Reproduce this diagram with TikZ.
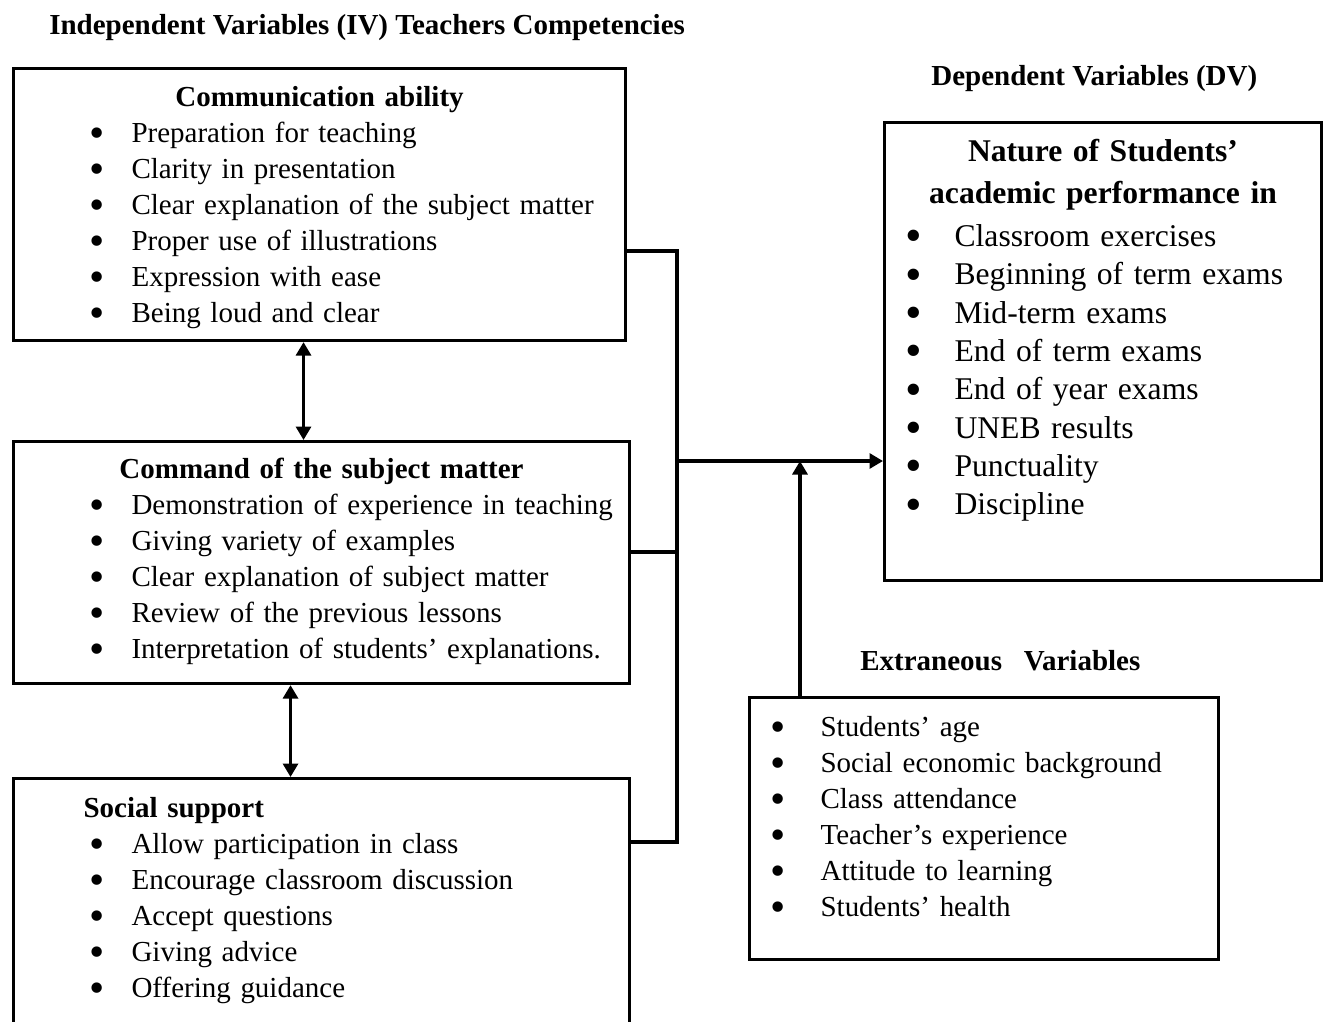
\documentclass[tikz,border=0pt]{standalone}
\usepackage{fontspec}
\setmainfont{Liberation Serif}
\usetikzlibrary{arrows.meta}
\usetikzlibrary{positioning}

\newcommand\bigdot{\smash{\raisebox{-0.17em}{\scalebox{1.5}{\textbullet}}}}
\newcommand\ivitem[1]{\hspace*{1.68cm}\makebox[0pt]{\bigdot}\hspace*{0.68cm}#1}
\newcommand\dvitem[1]{\hspace*{0.58cm}\makebox[0pt]{\bigdot}\hspace*{0.82cm}#1}
\newcommand\evitem[1]{\hspace*{0.58cm}\makebox[0pt]{\bigdot}\hspace*{0.84cm}#1}

\begin{document}
\begin{tikzpicture}
    [x=0.02cm, y=-0.02cm,
     varBox/.style={draw=black, line width=1.8pt, inner sep=0pt, anchor=north west, align=left, font=\fontsize{16.5}{20.5}\selectfont},
     dvBoxStyle/.style={varBox, font=\fontsize{18}{21.8}\selectfont},
     varLabel/.style={anchor=base west, inner sep=0pt, font=\fontsize{16.5}{20.5}\selectfont\bfseries},
     link/.style={line width=1.8pt},
     arrowTip/.style={-{Triangle[length=0.27cm, width=0.3cm]}},
     bothTips/.style={{Triangle[length=0.27cm, width=0.3cm]}-{Triangle[length=0.27cm, width=0.3cm]}},
    ]
    \useasboundingbox (0,0) rectangle (1325,1021);

    \node[varLabel] (ivLabel) at (49,34) {Independent Variables (IV) Teachers Competencies};
    \node[varLabel] (dvLabel) at (931,85) {Dependent Variables (DV)};
    \node[varLabel] (evLabel) at (860,670) {Extraneous~~~Variables};

    \node[varBox, text width=12.24cm, text height=0.76cm, text depth=4.68cm] (commBox) at (12,67)
        {\makebox[\linewidth]{\bfseries Communication ability}\\
         \ivitem{Preparation for teaching}\\
         \ivitem{Clarity in presentation}\\
         \ivitem{Clear explanation of the subject matter}\\
         \ivitem{Proper use of illustrations}\\
         \ivitem{Expression with ease}\\
         \ivitem{Being loud and clear}};
    \node[varBox, text width=12.32cm, text height=0.74cm, text depth=4.1cm] (cmdBox) at (12,440)
        {\makebox[\linewidth]{\bfseries Command of the subject matter}\\
         \ivitem{Demonstration of experience in teaching}\\
         \ivitem{Giving variety of examples}\\
         \ivitem{Clear explanation of subject matter}\\
         \ivitem{Review of the previous lessons}\\
         \ivitem{Interpretation of students' explanations.}};
    \node[varBox, text width=12.32cm, text height=0.78cm, text depth=4.6cm] (socBox) at (12,777)
        {\hspace*{1.4cm}\textbf{Social support}\\
         \ivitem{Allow participation in class}\\
         \ivitem{Encourage classroom discussion}\\
         \ivitem{Accept questions}\\
         \ivitem{Giving advice}\\
         \ivitem{Offering guidance}};

    \node[dvBoxStyle, text width=8.74cm, text height=0.78cm, text depth=8.38cm] (dvBox) at (883,121)
        {\makebox[\linewidth]{\bfseries Nature of Students'}\\[2.1pt]
         \makebox[\linewidth]{\bfseries academic performance in}\\[2.7pt]
         \dvitem{Classroom exercises}\\
         \dvitem{Beginning of term exams}\\
         \dvitem{Mid-term exams}\\
         \dvitem{End of term exams}\\
         \dvitem{End of year exams}\\
         \dvitem{UNEB results}\\
         \dvitem{Punctuality}\\
         \dvitem{Discipline}};

    \node[varBox, text width=9.38cm, text height=0.78cm, text depth=4.46cm] (evBox) at (748,696)
        {\evitem{Students' age}\\
         \evitem{Social economic background}\\
         \evitem{Class attendance}\\
         \evitem{Teacher's experience}\\
         \evitem{Attitude to learning}\\
         \evitem{Students' health}};

    \coordinate (joinA) at (677,251);
    \coordinate (joinB) at (677,552);
    \coordinate (joinC) at (677,842);
    \coordinate (joinD) at (677,461);
    \coordinate (joinE) at (800,461);

    \draw[link] (commBox.east |- joinA) -- (joinA) -- (joinC) -- (socBox.east |- joinC);
    \draw[link] (cmdBox.east |- joinB) -- (joinB);
    \draw[link, arrowTip] (joinD) -- (dvBox.west |- joinD);
    \draw[link, arrowTip] (evBox.north -| joinE) -- (joinE);
    \draw[link, bothTips] ([xshift=-0.32cm]commBox.south) -- ([xshift=-0.32cm]commBox.south |- cmdBox.north);
    \draw[link, bothTips] ([xshift=-0.62cm]cmdBox.south) -- ([xshift=-0.62cm]cmdBox.south |- socBox.north);

\end{tikzpicture}
\end{document}
